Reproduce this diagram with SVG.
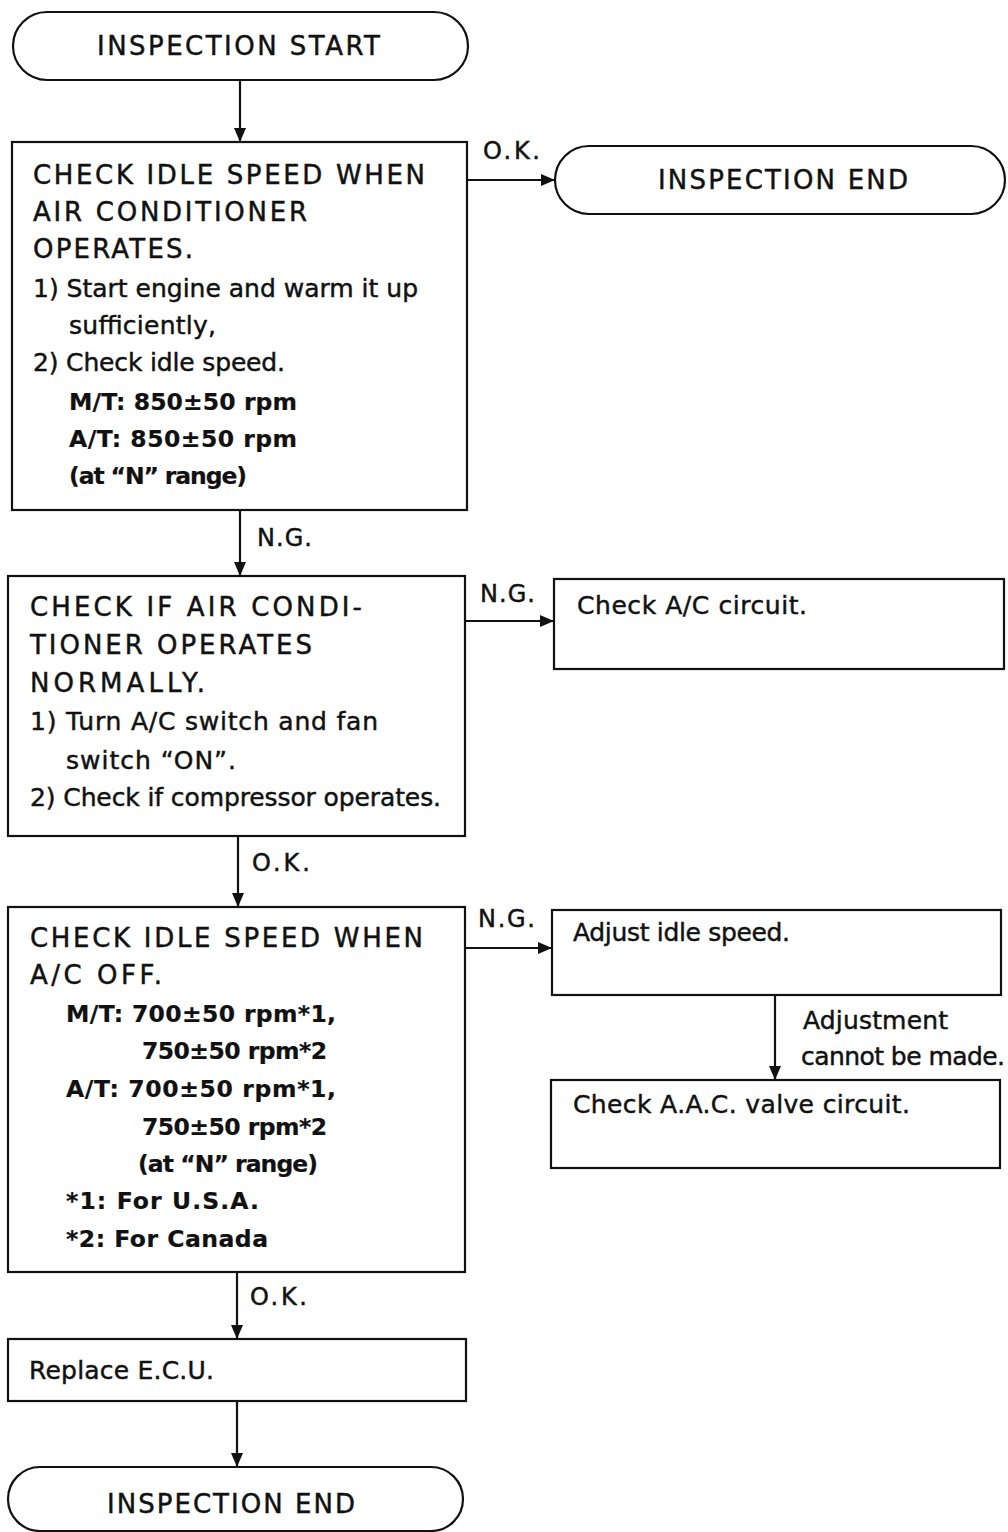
<svg xmlns="http://www.w3.org/2000/svg" width="1008" height="1532" viewBox="0 0 1008 1532">
<style>
.bx{fill:#fff;stroke:#111;stroke-width:2.2}
.ln{fill:none;stroke:#111;stroke-width:2.2}
text{font-family:"DejaVu Sans","Liberation Sans",sans-serif;fill:#111;stroke:#111;stroke-width:0.45}
.h{font-size:26px}
.b{font-size:25px}
.s{font-size:23.5px;font-weight:bold;stroke-width:0.2}
.l{font-size:24px}
</style>
<defs>
<marker id="ah" markerWidth="14" markerHeight="12" refX="13" refY="6" orient="auto" markerUnits="userSpaceOnUse">
<path d="M0,0 L14,6 L0,12 Z" fill="#111"/>
</marker>
</defs>
<rect width="1008" height="1532" fill="#fff"/>

<g id="connectors">
<line class="ln" x1="240" y1="80" x2="240" y2="141" marker-end="url(#ah)"/>
<line class="ln" x1="467" y1="180" x2="554" y2="180" marker-end="url(#ah)"/>
<text class="l" x="483" y="159" textLength="57" lengthAdjust="spacing">O.K.</text>
<line class="ln" x1="240" y1="510" x2="240" y2="575" marker-end="url(#ah)"/>
<text class="l" x="257" y="546" textLength="55" lengthAdjust="spacing">N.G.</text>
<line class="ln" x1="465" y1="621" x2="553" y2="621" marker-end="url(#ah)"/>
<text class="l" x="480" y="602" textLength="55" lengthAdjust="spacing">N.G.</text>
<line class="ln" x1="238" y1="836" x2="238" y2="906" marker-end="url(#ah)"/>
<text class="l" x="252" y="871" textLength="58" lengthAdjust="spacing">O.K.</text>
<line class="ln" x1="465" y1="948" x2="551" y2="948" marker-end="url(#ah)"/>
<text class="l" x="478" y="927" textLength="57" lengthAdjust="spacing">N.G.</text>
<line class="ln" x1="775" y1="995" x2="775" y2="1079" marker-end="url(#ah)"/>
<text class="b" x="803" y="1029" textLength="145" lengthAdjust="spacing">Adjustment</text>
<text class="b" x="801" y="1065" textLength="204" lengthAdjust="spacing">cannot be made.</text>
<line class="ln" x1="237" y1="1272" x2="237" y2="1338" marker-end="url(#ah)"/>
<text class="l" x="250" y="1305" textLength="57" lengthAdjust="spacing">O.K.</text>
<line class="ln" x1="237" y1="1401" x2="237" y2="1466" marker-end="url(#ah)"/>
</g>

<g id="start">
<rect class="bx" x="13" y="12" width="455" height="68" rx="34"/>
<text class="h" x="97" y="55" textLength="283" lengthAdjust="spacing">INSPECTION START</text>
</g>

<g id="end-top">
<rect class="bx" x="555" y="146" width="450" height="68" rx="34"/>
<text class="h" x="658" y="189" textLength="250" lengthAdjust="spacing">INSPECTION END</text>
</g>

<g id="check-idle-ac-on">
<rect class="bx" x="12" y="142" width="455" height="368"/>
<text class="h" x="33" y="184" textLength="392" lengthAdjust="spacing">CHECK IDLE SPEED WHEN</text>
<text class="h" x="33" y="221" textLength="274" lengthAdjust="spacing">AIR CONDITIONER</text>
<text class="h" x="33" y="258" textLength="160" lengthAdjust="spacing">OPERATES.</text>
<text class="b" x="33" y="297" textLength="385" lengthAdjust="spacing">1) Start engine and warm it up</text>
<text class="b" x="69" y="334" textLength="147" lengthAdjust="spacing">sufficiently,</text>
<text class="b" x="33" y="371" textLength="252" lengthAdjust="spacing">2) Check idle speed.</text>
<text class="s" x="69" y="410" textLength="228" lengthAdjust="spacing">M/T: 850±50 rpm</text>
<text class="s" x="69" y="447" textLength="228" lengthAdjust="spacing">A/T: 850±50 rpm</text>
<text class="s" x="69" y="484" textLength="178" lengthAdjust="spacing">(at “N” range)</text>
</g>

<g id="check-ac-operates">
<rect class="bx" x="8" y="576" width="457" height="260"/>
<text class="h" x="30" y="616" textLength="332" lengthAdjust="spacing">CHECK IF AIR CONDI-</text>
<text class="h" x="30" y="654" textLength="282" lengthAdjust="spacing">TIONER OPERATES</text>
<text class="h" x="30" y="692" textLength="175" lengthAdjust="spacing">NORMALLY.</text>
<text class="b" x="30" y="730" textLength="348" lengthAdjust="spacing">1) Turn A/C switch and fan</text>
<text class="b" x="66" y="769" textLength="170" lengthAdjust="spacing">switch “ON”.</text>
<text class="b" x="30" y="806" textLength="411" lengthAdjust="spacing">2) Check if compressor operates.</text>
</g>

<g id="check-ac-circuit">
<rect class="bx" x="554" y="579" width="450" height="90"/>
<text class="b" x="577" y="614" textLength="230" lengthAdjust="spacing">Check A/C circuit.</text>
</g>

<g id="check-idle-ac-off">
<rect class="bx" x="8" y="907" width="457" height="365"/>
<text class="h" x="30" y="947" textLength="393" lengthAdjust="spacing">CHECK IDLE SPEED WHEN</text>
<text class="h" x="30" y="984" textLength="132" lengthAdjust="spacing">A/C OFF.</text>
<text class="s" x="66" y="1022" textLength="270" lengthAdjust="spacing">M/T: 700±50 rpm*1,</text>
<text class="s" x="142" y="1059" textLength="185" lengthAdjust="spacing">750±50 rpm*2</text>
<text class="s" x="66" y="1097" textLength="270" lengthAdjust="spacing">A/T: 700±50 rpm*1,</text>
<text class="s" x="142" y="1135" textLength="185" lengthAdjust="spacing">750±50 rpm*2</text>
<text class="s" x="138" y="1172" textLength="180" lengthAdjust="spacing">(at “N” range)</text>
<text class="s" x="66" y="1209" textLength="193" lengthAdjust="spacing">*1: For U.S.A.</text>
<text class="s" x="66" y="1247" textLength="202" lengthAdjust="spacing">*2: For Canada</text>
</g>

<g id="adjust-idle">
<rect class="bx" x="552" y="910" width="449" height="85"/>
<text class="b" x="573" y="941" textLength="217" lengthAdjust="spacing">Adjust idle speed.</text>
</g>

<g id="check-aac">
<rect class="bx" x="551" y="1080" width="449" height="88"/>
<text class="b" x="573" y="1113" textLength="337" lengthAdjust="spacing">Check A.A.C. valve circuit.</text>
</g>

<g id="replace-ecu">
<rect class="bx" x="8" y="1339" width="458" height="62"/>
<text class="b" x="29" y="1379" textLength="185" lengthAdjust="spacing">Replace E.C.U.</text>
</g>

<g id="end-bottom">
<rect class="bx" x="8" y="1467" width="455" height="64" rx="32"/>
<text class="h" x="107" y="1513" textLength="248" lengthAdjust="spacing">INSPECTION END</text>
</g>
</svg>
